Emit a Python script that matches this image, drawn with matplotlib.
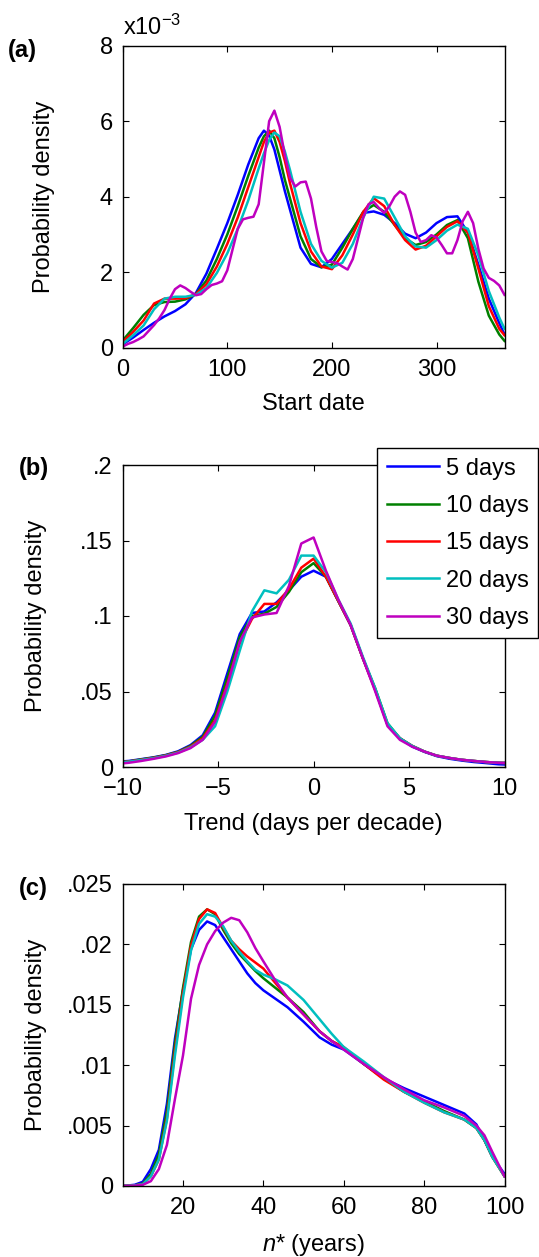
import numpy as np
import matplotlib
matplotlib.use("Agg")
import matplotlib.pyplot as plt

plt.rcParams['font.family'] = ['Liberation Sans', 'DejaVu Sans']
plt.rcParams['mathtext.fontset'] = 'custom'
plt.rcParams['mathtext.rm'] = 'Liberation Sans'
plt.rcParams['mathtext.it'] = 'Liberation Sans:italic'
plt.rcParams['axes.unicode_minus'] = True

fs = 17
lw = 1.8
labels = ["5 days", "10 days", "15 days", "20 days", "30 days"]
colors = ["#0000ff", "#008000", "#ff0000", "#00bfbf", "#bf00bf"]

# (a) start date, density in units of 1e-3
day = [0, 10, 20, 30, 40, 50, 60, 70, 80, 90, 100, 110, 120, 130, 135, 140, 145, 150, 155, 160,
       170, 180, 190, 200, 210, 220, 230, 240, 250, 260, 270, 280, 290, 300, 310, 320, 330, 340,
       350, 360, 365]
a5 = [0.09, 0.27, 0.47, 0.66, 0.83, 0.97, 1.15, 1.45, 1.96, 2.62, 3.3, 4.05, 4.85, 5.55, 5.75, 5.62,
      5.25, 4.7, 4.15, 3.65, 2.65, 2.22, 2.13, 2.35, 2.75, 3.15, 3.57, 3.61, 3.52, 3.3, 3.02, 2.9,
      3.05, 3.3, 3.46, 3.48, 3.05, 2.2, 1.3, 0.65, 0.35]
a10 = [0.19, 0.52, 0.87, 1.13, 1.21, 1.22, 1.28, 1.42, 1.78, 2.35, 3.0, 3.75, 4.55, 5.3, 5.6, 5.75,
       5.55, 5.05, 4.45, 3.95, 2.95, 2.35, 2.13, 2.2, 2.65, 3.15, 3.6, 3.78, 3.6, 3.25, 2.9, 2.72,
       2.8, 3.0, 3.25, 3.38, 2.9, 1.75, 0.85, 0.35, 0.18]
a15 = [0.15, 0.42, 0.72, 1.17, 1.3, 1.3, 1.31, 1.42, 1.68, 2.15, 2.75, 3.45, 4.25, 5.05, 5.45, 5.7,
       5.75, 5.45, 4.95, 4.35, 3.3, 2.55, 2.15, 2.08, 2.45, 3.0, 3.6, 3.96, 3.75, 3.25, 2.85, 2.6,
       2.7, 2.95, 3.2, 3.35, 3.05, 2.1, 1.1, 0.5, 0.33]
a20 = [0.1, 0.33, 0.59, 1.02, 1.3, 1.35, 1.35, 1.4, 1.58, 1.98, 2.5, 3.15, 3.9, 4.75, 5.15, 5.5,
       5.7, 5.6, 5.2, 4.7, 3.6, 2.75, 2.3, 2.12, 2.25, 2.75, 3.45, 4.0, 3.95, 3.45, 2.95, 2.68,
       2.65, 2.85, 3.1, 3.26, 3.15, 2.45, 1.5, 0.8, 0.5]
day30 = [0, 5, 10, 15, 20, 25, 30, 35, 40, 45, 50, 55, 60, 65, 70, 75, 80, 85, 90, 95, 100, 105,
         110, 115, 120, 125, 130, 135, 140, 145, 150, 155, 160, 165, 170, 175, 180, 185, 190, 195,
         200, 205, 210, 215, 220, 225, 230, 235, 240, 245, 250, 255, 260, 265, 270, 275, 280, 285,
         290, 295, 300, 305, 310, 315, 320, 325, 330, 335, 340, 345, 350, 355, 360, 365]
a30 = [0.03, 0.1, 0.15, 0.22, 0.3, 0.45, 0.6, 0.78, 1.0, 1.3, 1.55, 1.65, 1.58, 1.48, 1.39, 1.42,
       1.55, 1.66, 1.7, 1.76, 2.05, 2.6, 3.15, 3.4, 3.44, 3.47, 3.8, 4.9, 6.0, 6.28, 5.85, 5.1, 4.5,
       4.27, 4.38, 4.4, 3.95, 3.2, 2.55, 2.3, 2.27, 2.24, 2.15, 2.07, 2.35, 2.9, 3.45, 3.8, 3.86,
       3.7, 3.57, 3.75, 4.0, 4.14, 4.05, 3.6, 3.05, 2.8, 2.85, 2.98, 2.92, 2.72, 2.5, 2.5, 2.85,
       3.35, 3.6, 3.3, 2.62, 2.1, 1.85, 1.77, 1.65, 1.4]

# (b) trend, days per decade
trend = [-10.32, -9.68, -9.03, -8.39, -7.74, -7.10, -6.45, -5.81, -5.16, -4.52, -3.87, -3.23,
         -2.58, -1.94, -1.29, -0.645, 0, 0.645, 1.29, 1.94, 2.58, 3.23, 3.87, 4.52, 5.16, 5.81,
         6.45, 7.10, 7.74, 8.39, 9.03, 9.68, 10.32]
b5 = [0.0035, 0.0040, 0.0052, 0.0064, 0.0080, 0.0104, 0.0145, 0.021, 0.036, 0.062, 0.088, 0.102,
      0.103, 0.109, 0.117, 0.126, 0.130, 0.126, 0.110, 0.094, 0.072, 0.051, 0.028, 0.019, 0.0135,
      0.0100, 0.0072, 0.0055, 0.0043, 0.0033, 0.0026, 0.0018, 0.0015]
b10 = [0.0030, 0.0037, 0.0050, 0.0062, 0.0078, 0.0100, 0.0140, 0.020, 0.034, 0.059, 0.086, 0.100,
       0.1015, 0.106, 0.116, 0.129, 0.135, 0.126, 0.110, 0.094, 0.072, 0.052, 0.029, 0.019, 0.014,
       0.0102, 0.0075, 0.0060, 0.0048, 0.0040, 0.0033, 0.0028, 0.0026]
b15 = [0.0030, 0.0036, 0.0048, 0.0060, 0.0076, 0.0098, 0.0135, 0.019, 0.031, 0.055, 0.082, 0.098,
       0.108, 0.108, 0.118, 0.132, 0.138, 0.126, 0.110, 0.094, 0.072, 0.051, 0.028, 0.019, 0.014,
       0.0102, 0.0075, 0.0060, 0.0048, 0.0040, 0.0033, 0.0028, 0.0026]
b20 = [0.0028, 0.0035, 0.0046, 0.0058, 0.0074, 0.0095, 0.0130, 0.018, 0.027, 0.050, 0.077, 0.103,
       0.117, 0.115, 0.124, 0.140, 0.140, 0.129, 0.111, 0.095, 0.073, 0.052, 0.029, 0.019, 0.014,
       0.0102, 0.0075, 0.0060, 0.0048, 0.0040, 0.0033, 0.0028, 0.0026]
b30 = [0.0020, 0.0028, 0.0040, 0.0054, 0.0070, 0.0092, 0.0125, 0.018, 0.030, 0.054, 0.083, 0.099,
       0.101, 0.102, 0.120, 0.148, 0.152, 0.130, 0.111, 0.094, 0.072, 0.050, 0.027, 0.018, 0.0135,
       0.0102, 0.0075, 0.0060, 0.0048, 0.0040, 0.0033, 0.0028, 0.0026]

# (c) n* (years), density in units of 1e-3
nstar = [5, 8, 10, 12, 14, 16, 18, 20, 22, 24, 26, 28, 30, 32, 34, 36, 38, 40, 43, 46, 50, 54, 57,
         60, 65, 70, 75, 80, 85, 90, 93, 95, 97, 100]
c5 = [0, 0.1, 0.35, 1.4, 3.0, 6.8, 12.2, 16.2, 19.6, 21.2, 21.9, 21.6, 20.6, 19.6, 18.6, 17.6, 16.8,
      16.2, 15.5, 14.8, 13.6, 12.3, 11.7, 11.3, 10.1, 8.9, 8.1, 7.4, 6.7, 6.0, 5.1, 3.8, 2.4, 1.0]
c10 = [0, 0.05, 0.2, 1.0, 2.6, 6.2, 11.8, 16.4, 20.2, 22.3, 22.9, 22.5, 21.2, 20.1, 19.2, 18.5,
       17.8, 17.2, 16.4, 15.6, 14.4, 12.8, 12.0, 11.4, 10.1, 8.9, 7.8, 7.0, 6.2, 5.5, 4.8, 3.8, 2.4,
       0.8]
c15 = [0, 0.05, 0.15, 0.8, 2.2, 5.6, 11.2, 16.0, 19.9, 22.1, 22.9, 22.6, 21.4, 20.3, 19.6, 19.0,
       18.5, 18.0, 16.8, 15.6, 14.2, 12.8, 12.0, 11.5, 10.1, 8.8, 7.8, 6.9, 6.1, 5.5, 4.8, 3.8, 2.4,
       0.8]
c20 = [0, 0.05, 0.15, 0.8, 2.2, 5.4, 10.8, 15.6, 19.5, 21.7, 22.5, 22.3, 21.5, 20.3, 19.4, 18.6,
       17.9, 17.5, 17.1, 16.6, 15.4, 13.8, 12.6, 11.5, 10.3, 9.0, 7.8, 6.9, 6.1, 5.5, 4.8, 3.8, 2.4,
       0.8]
c30 = [0, 0.03, 0.1, 0.4, 1.4, 3.4, 7.2, 10.8, 15.5, 18.3, 20.0, 21.1, 21.8, 22.2, 22.0, 21.0,
       19.7, 18.6, 17.0, 15.6, 14.2, 12.8, 12.0, 11.3, 10.1, 9.0, 8.0, 7.1, 6.5, 5.8, 5.0, 4.2, 2.8,
       0.8]

W, H = 539, 1257
fig = plt.figure(figsize=(W / 100, H / 100), dpi=100)
left, width = 122.7 / W, (504.5 - 122.7) / W
hgt = 302 / H


def make_ax(bottom_px, ylab_x):
    ax = fig.add_axes([left, 1 - bottom_px / H, width, hgt])
    ax.tick_params(direction="in", top=True, right=True, length=4, width=0.8,
                   labelsize=fs)
    ax.tick_params(axis="x", pad=8)
    ax.tick_params(axis="y", pad=7)
    for s in ax.spines.values():
        s.set_linewidth(1.0)
    ax.set_ylabel("Probability density", fontsize=fs)
    ax.yaxis.set_label_coords((ylab_x - 122.7) / (504.5 - 122.7), 0.5)
    return ax


# panel a
ax1 = make_ax(347.7, 55)
for x, y, c in zip([day, day, day, day, day30], [a5, a10, a15, a20, a30], colors):
    ax1.plot(x, y, color=c, lw=lw)
ax1.set_xlim(0, 365)
ax1.set_ylim(0, 8)
ax1.set_xticks([0, 100, 200, 300])
ax1.set_yticks([0, 2, 4, 6, 8])
ax1.set_xlabel("Start date", fontsize=fs, labelpad=9)
ax1.text(0, 1.02, r"x10$^{\mathregular{-3}}$", transform=ax1.transAxes, fontsize=fs,
         ha="left", va="bottom")
fig.text(8 / W, 1 - 50 / H, "(a)", fontsize=fs, fontweight="bold", va="center")

# panel b
ax2 = make_ax(767, 47)
for y, c, lab in zip([b5, b10, b15, b20, b30], colors, labels):
    ax2.plot(trend, y, color=c, lw=lw, label=lab)
ax2.set_xlim(-10, 10)
ax2.set_ylim(0, 0.2)
ax2.set_xticks([-10, -5, 0, 5, 10])
ax2.set_xticklabels(["\u221210", "\u22125", "0", "5", "10"])
ax2.set_yticks([0, 0.05, 0.1, 0.15, 0.2])
ax2.set_yticklabels(["0", ".05", ".1", ".15", ".2"])
ax2.set_xlabel("Trend (days per decade)", fontsize=fs, labelpad=9)
leg = ax2.legend(loc="upper right", bbox_to_anchor=(1.088, 1.056), borderaxespad=0,
                 fontsize=fs, handlelength=2.2, handletextpad=0.3, labelspacing=0.65,
                 borderpad=0.4, fancybox=False, framealpha=1, edgecolor="black")
leg.get_frame().set_linewidth(1.0)
fig.text(19 / W, 1 - 468 / H, "(b)", fontsize=fs, fontweight="bold", va="center")

# panel c
ax3 = make_ax(1186, 47)
for y, c in zip([c5, c10, c15, c20, c30], colors):
    ax3.plot(nstar, np.array(y) * 1e-3, color=c, lw=lw)
ax3.set_xlim(5, 100)
ax3.set_ylim(0, 0.025)
ax3.set_xticks([20, 40, 60, 80, 100])
ax3.set_yticks([0, 0.005, 0.01, 0.015, 0.02, 0.025])
ax3.set_yticklabels(["0", ".005", ".01", ".015", ".02", ".025"])
ax3.set_xlabel(r"$n$* (years)", fontsize=fs, labelpad=9)
fig.text(19 / W, 1 - 888 / H, "(c)", fontsize=fs, fontweight="bold", va="center")

fig.savefig("out.png", dpi=100)
